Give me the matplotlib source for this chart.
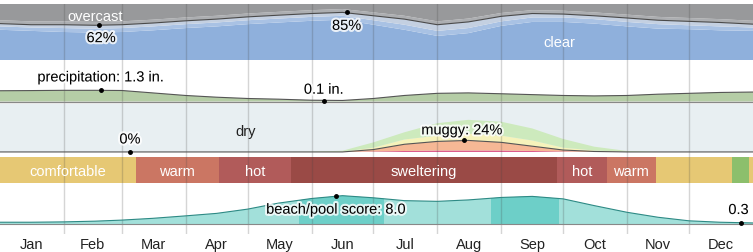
import numpy as np
import matplotlib.pyplot as plt
import matplotlib.patheffects as pe
from matplotlib.patches import Rectangle

plt.rcParams['font.family'] = ['Liberation Sans', 'DejaVu Sans']

# sample days: 1st and 16th of each month
days = [0, 15, 31, 46, 59, 74, 90, 105, 120, 135, 151, 166, 181,
        196, 212, 227, 243, 258, 273, 288, 304, 319, 334, 349, 365]
months = ['Jan', 'Feb', 'Mar', 'Apr', 'May', 'Jun',
          'Jul', 'Aug', 'Sep', 'Oct', 'Nov', 'Dec']
month_starts = [0, 31, 59, 90, 120, 151, 181, 212, 243, 273, 304, 334, 365]

# cloud cover (% of time)
pct_clear = [54, 52, 50, 49, 50, 53, 57, 60, 64, 67, 70, 72, 63,
             54, 43, 48, 61, 68, 68, 65, 60, 56, 55, 53, 52]
pct_mostly_clear = [6, 6, 7, 7, 7, 7, 7, 7, 7, 7, 7, 7, 8,
                    9, 9, 9, 8, 8, 8, 8, 8, 8, 7, 7, 6]
pct_partly_cloudy = [5, 5, 6, 6, 6, 6, 6, 6, 6, 6, 6, 6, 8,
                     10, 11, 11, 9, 7, 6, 6, 7, 7, 7, 7, 6]
pct_mostly_cloudy = [6, 6, 6, 6, 6, 6, 6, 6, 6, 6, 6, 6, 6,
                     6, 6, 6, 6, 6, 6, 6, 6, 6, 6, 6, 6]

# monthly precipitation (in.)
precip = [1.25, 1.27, 1.3, 1.3, 1.28, 1.0, 0.7, 0.5, 0.35, 0.27, 0.15, 0.12, 0.35,
          0.7, 0.95, 1.0, 0.9, 0.8, 0.7, 0.65, 0.7, 0.85, 0.95, 1.05, 1.1]

# humidity comfort levels (% of time)
hum_oppressive = [0, 0, 0, 0, 0, 0, 0, 0, 0, 0, 0, 0, 1,
                  2, 3, 3, 3, 2, 1, 0, 0, 0, 0, 0, 0]
hum_muggy = [0, 0, 0, 0, 0, 0, 0, 0, 0, 0, 0, 0, 4,
             14, 19, 21, 17, 10, 3, 1, 0, 0, 0, 0, 0]
hum_humid = [0, 0, 0, 0, 0, 0, 0, 0, 0, 0, 0, 0.5, 4,
             10, 12, 14, 14, 12, 5, 2, 0, 0, 0, 0, 0]
hum_comfortable = [0, 0, 0, 0, 0, 0, 0, 0, 0, 0, 0.5, 2, 11,
                   15, 26, 29, 29, 25, 18, 8, 2, 0, 0, 0, 0]

# perceived temperature bands
temp_edges = [0, 66, 106, 141, 270, 294, 318, 355, 363, 365]
temp_cats = ['comfortable', 'warm', 'hot', 'sweltering', 'hot', 'warm',
             'comfortable', 'cool', 'comfortable']
temp_labels = ['comfortable', 'warm', 'hot', 'sweltering', 'hot', 'warm', '', '', '']

# beach/pool score
beach = [0.5, 0.5, 0.6, 0.8, 1.1, 1.6, 2.3, 3.0, 4.2, 5.9, 7.2, 8.0, 7.4,
         6.6, 6.4, 6.8, 7.5, 7.8, 7.1, 5.2, 3.3, 1.9, 0.9, 0.5, 0.3]
best_periods = [(145, 186), (238, 271)]

temp_colors = {'comfortable': '#e6c874', 'warm': '#cb7663', 'hot': '#b15b5a',
               'sweltering': '#9a4a46', 'cool': '#8cbf6c'}

W, H = 753, 253
fig = plt.figure(figsize=(W / 100, H / 100), dpi=100)


def panel(top, bottom):
    ax = fig.add_axes([0, 1 - bottom / H, 1, (bottom - top) / H])
    ax.set_xlim(0, 365)
    ax.set_axis_off()
    return ax


def grid(ax):
    for d in month_starts[1:-1]:
        ax.axvline(d, color='#444', alpha=0.22, lw=1, zorder=2)


halo = [pe.withStroke(linewidth=3, foreground='white', alpha=0.8)]
tkw = dict(ha='center', va='center', fontsize=10.5, zorder=5)

# --- cloud cover
ax = panel(5, 61)
ax.set_ylim(0, 100)
overcast = 100 - (np.array(pct_clear) + pct_mostly_clear + pct_partly_cloudy
                  + pct_mostly_cloudy)
ax.stackplot(days, pct_clear, pct_mostly_clear, pct_partly_cloudy,
             pct_mostly_cloudy, overcast,
             colors=['#8fb0dc', '#a9c2e4', '#c4d0e1', '#acaeb1', '#98999b'],
             lw=0, zorder=1)
cloud_line = np.array(pct_clear) + pct_mostly_clear + pct_partly_cloudy
ax.plot(days, cloud_line, color='#4a4a4a', lw=0.8, zorder=3)
grid(ax)
ax.text(46, 78, 'overcast', color='white', **tkw)
ax.text(271, 33, 'clear', color='white', **tkw)
ax.plot([48, 168], [62, 85], 'o', color='k', ms=2.5, zorder=4)
ax.text(49, 39, '62%', path_effects=halo, **tkw)
ax.text(168, 61, '85%', path_effects=halo, **tkw)

# --- precipitation
ax = panel(61, 105)
ax.set_ylim(-2.5 / 8.6, 41.5 / 8.6)
ax.fill_between(days, 0, precip, color='#b5cda6', lw=0, zorder=1)
ax.plot(days, precip, color='#555', lw=0.8, zorder=3)
ax.axhline(0, color='#888', lw=1, zorder=3)
grid(ax)
ax.plot([49, 157], [1.3, 0.1], 'o', color='k', ms=2.5, zorder=4)
ax.text(49, 2.8, 'precipitation: 1.3 in.', path_effects=halo, **tkw)
ax.text(157, 1.37, '0.1 in.', path_effects=halo, **tkw)

# --- humidity
ax = panel(105, 158)
ax.set_ylim(-5 / 0.475, 100)
ax.axhspan(0, 100, color='#e8eff2', lw=0, zorder=0)
ax.stackplot(days, hum_oppressive, hum_muggy, hum_humid, hum_comfortable,
             colors=['#dc568a', '#f6b895', '#f6f3bb', '#cdeabd'], lw=0, zorder=1)
muggy_line = np.array(hum_oppressive) + hum_muggy
ax.plot(days, muggy_line, color='#555', lw=0.8, zorder=3)
grid(ax)
ax.text(119, 43, 'dry', color='#222', **tkw)
ax.plot([63, 225], [0, 24], 'o', color='k', ms=2.5, zorder=4)
ax.text(63, 26, '0%', path_effects=halo, **tkw)
ax.text(224, 45, 'muggy: 24%', path_effects=halo, **tkw)

# --- perceived temperature
ax = panel(158, 184)
ax.set_ylim(0, 1)
lefts = temp_edges[:-1]
widths = np.diff(temp_edges)
ax.barh(0.5, widths, left=lefts, height=1,
        color=[temp_colors[c] for c in temp_cats], lw=0, zorder=1)
grid(ax)
for l, w, lab in zip(lefts, widths, temp_labels):
    if lab:
        ax.text(l + w / 2, 0.45, lab, color='white', **tkw)

# --- beach/pool score
ax = fig.add_axes([0, 1 - 235 / H, 1, (235 - 184) / H])
ax.set_xlim(0, 365)
ax.set_ylim(-10 / 3.54, 41 / 3.54)
for s in ax.spines.values():
    s.set_visible(False)
ax.set_yticks([])
mids = [(a + b) / 2 for a, b in zip(month_starts[:-1], month_starts[1:])]
ax.set_xticks(mids, months)
ax.tick_params(axis='x', length=0, pad=2, labelsize=10.5, labelcolor='#222')
ax.fill_between(days, 0, beach, color='#a2e0da', lw=0, zorder=1)
for a, b in best_periods:
    dark = ax.fill_between(days, 0, beach, color='#6dcfc8', lw=0, zorder=1.5)
    clip = Rectangle((a, -1), b - a, 20, transform=ax.transData)
    dark.set_clip_path(clip)
ax.plot(days, beach, color='#2e8a85', lw=0.8, zorder=3)
ax.axhline(0, color='#888', lw=0.8, zorder=3)
grid(ax)
ax.plot([163, 359], [8.0, 0.3], 'o', color='k', ms=2.5, zorder=4)
ax.text(163, 4.05, 'beach/pool score: 8.0', path_effects=halo, **tkw)
ax.text(358, 3.95, '0.3', path_effects=halo, **tkw)

fig.savefig('out.png', dpi=100)
